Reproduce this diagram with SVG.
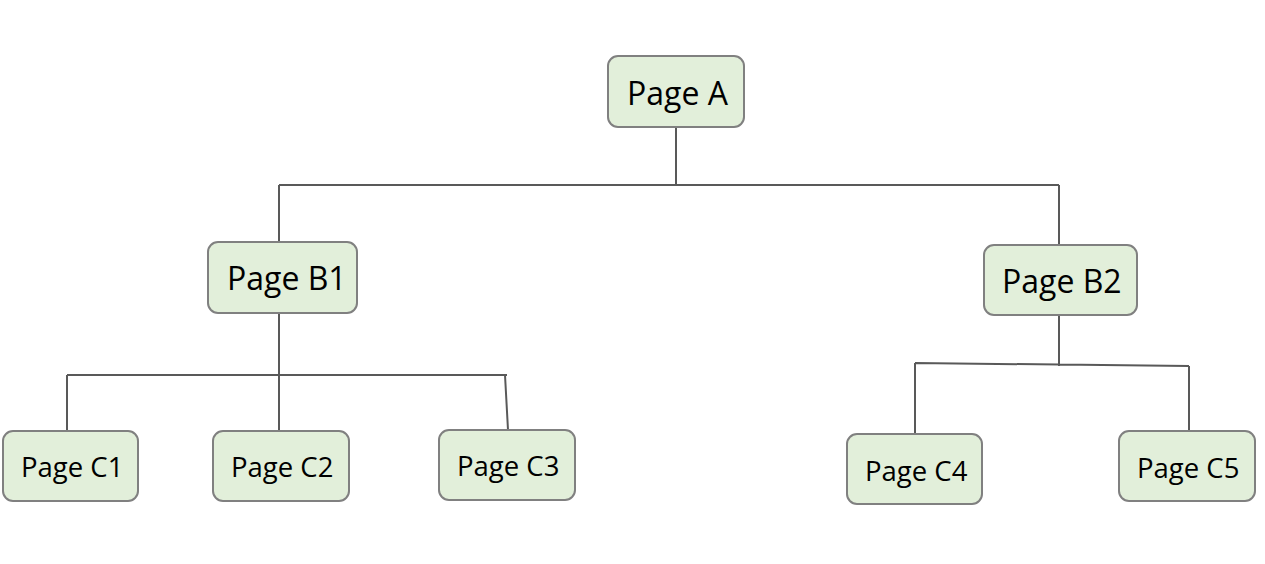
<svg xmlns="http://www.w3.org/2000/svg" width="1265" height="564" viewBox="0 0 1265 564">
<style>
.node rect{fill:#e2efda;stroke:#808080;stroke-width:2}
.node text{font-family:"Open Sans",Lato,"Liberation Sans",sans-serif;fill:#000}
.big{font-size:32px}
.small{font-size:27.5px}
.conn{stroke:#595959;stroke-width:2;fill:none}
</style>
<rect width="1265" height="564" fill="#fff"/>
<g id="connectors" class="conn">
<path d="M676 127V185M279 185H1059M279 185V242M1059 185V245"/>
<path d="M279 313V431M67 375H507M67 375V435M505 375L508 430"/>
<path d="M1059 315V366M915 363L1189 366M915 363V434M1189 366V431"/>
</g>
<g id="pageA" class="node"><rect x="608" y="56" width="136" height="71" rx="10"/><text class="big" x="627" y="105">Page A</text></g>
<g id="pageB1" class="node"><rect x="208" y="242" width="149" height="71" rx="10"/><text class="big" x="227" y="290">Page B1</text></g>
<g id="pageB2" class="node"><rect x="984" y="245" width="153" height="70" rx="10"/><text class="big" x="1002" y="293">Page B2</text></g>
<g id="pageC1" class="node"><rect x="3" y="431" width="135" height="70" rx="10"/><text class="small" x="21" y="477">Page C1</text></g>
<g id="pageC2" class="node"><rect x="213" y="431" width="136" height="70" rx="10"/><text class="small" x="231" y="477">Page C2</text></g>
<g id="pageC3" class="node"><rect x="439" y="430" width="136" height="70" rx="10"/><text class="small" x="457" y="476">Page C3</text></g>
<g id="pageC4" class="node"><rect x="847" y="434" width="135" height="70" rx="10"/><text class="small" x="865" y="481">Page C4</text></g>
<g id="pageC5" class="node"><rect x="1119" y="431" width="136" height="70" rx="10"/><text class="small" x="1137" y="478">Page C5</text></g>
</svg>
